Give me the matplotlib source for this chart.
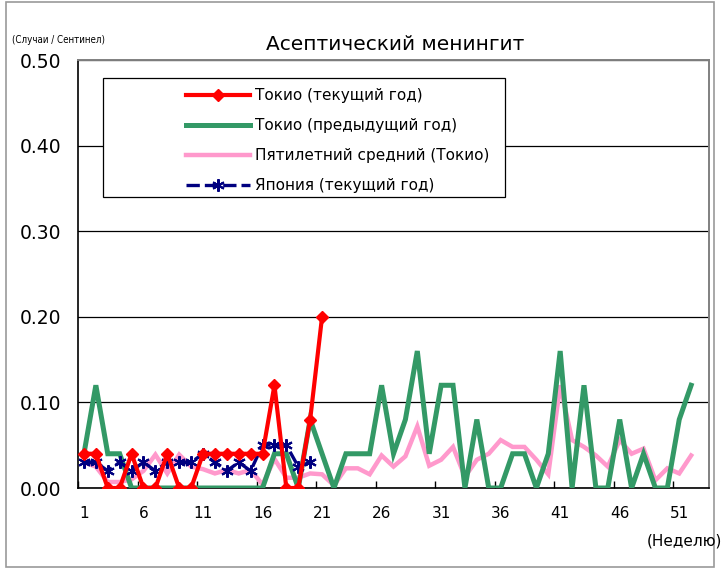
import matplotlib
matplotlib.use("Agg")
import matplotlib.pyplot as plt
from matplotlib.patches import Rectangle

weeks_label = "(Неделю)"
title = "Асептический менингит"
unit_label = "(Случаи / Сентинел)"
series_names = ["Токио (текущий год)", "Токио (предыдущий год)",
                "Пятилетний средний (Токио)", "Япония (текущий год)"]

tokyo_current = [0.04, 0.04, 0, 0, 0.04, 0, 0, 0.04, 0, 0, 0.04, 0.04, 0.04, 0.04,
                 0.04, 0.04, 0.12, 0, 0, 0.08, 0.20]
tokyo_previous = [0.04, 0.12, 0.04, 0.04, 0, 0, 0, 0, 0, 0, 0, 0, 0, 0, 0, 0,
                  0.04, 0.04, 0, 0.08, 0.04, 0, 0.04, 0.04, 0.04, 0.12, 0.04, 0.08,
                  0.16, 0.04, 0.12, 0.12, 0, 0.08, 0, 0, 0.04, 0.04, 0, 0.04, 0.16,
                  0, 0.12, 0, 0, 0.08, 0, 0.04, 0, 0, 0.08, 0.12]
five_year_avg = [0.03, 0.025, 0.007, 0.007, 0.01, 0.02, 0.039, 0.017, 0.039, 0.025,
                 0.022, 0.017, 0.021, 0.017, 0.021, 0.004, 0.034, 0.012, 0.012, 0.017,
                 0.016, 0.003, 0.023, 0.023, 0.016, 0.038, 0.025, 0.037, 0.072, 0.026,
                 0.033, 0.048, 0.013, 0.033, 0.04, 0.056, 0.048, 0.048, 0.033, 0.016,
                 0.12, 0.056, 0.048, 0.038, 0.025, 0.056, 0.04, 0.046, 0.009, 0.023,
                 0.017, 0.038]
japan_current = [0.03, 0.03, 0.02, 0.03, 0.02, 0.03, 0.02, 0.03, 0.03, 0.03, 0.04,
                 0.03, 0.02, 0.03, 0.02, 0.05, 0.05, 0.05, 0.025, 0.03]

x_tick_weeks = [1, 6, 11, 16, 21, 26, 31, 36, 41, 46, 51]
y_ticks = [0.0, 0.1, 0.2, 0.3, 0.4, 0.5]

W, H = 726, 569
fig = plt.figure(figsize=(W / 100, H / 100), dpi=100)
fig.patch.set_facecolor("white")

# chart area border
fig.patches.append(Rectangle((6 / W, 1 - 567 / H), (714 - 6) / W, (567 - 2) / H,
                             transform=fig.transFigure, fill=False,
                             edgecolor="#9a9a9a", lw=1.2))

ax = fig.add_axes([78 / W, 1 - 488 / H, (709 - 78) / W, (488 - 60) / H])

def wk(n):
    return list(range(1, n + 1))

ax.plot(wk(len(five_year_avg)), five_year_avg, color="#FF99CC", lw=3.2,
        solid_joinstyle="miter", zorder=2, label=series_names[2])
ax.plot(wk(len(tokyo_previous)), tokyo_previous, color="#339966", lw=3.6,
        solid_joinstyle="miter", zorder=3, label=series_names[1])
ax.plot(wk(len(japan_current)), japan_current, color="#000080", lw=2.4,
        linestyle=(0, (4, 1.5)), marker=(6, 2, 0), markersize=9,
        markeredgewidth=1.5, zorder=4, label=series_names[3])
ax.plot(wk(len(tokyo_current)), tokyo_current, color="#FF0000", lw=3.0,
        marker="D", markersize=6.5, zorder=5, label=series_names[0])

ax.set_xlim(0.5, 53.5)
ax.set_ylim(0, 0.5)

ax.set_xticks(x_tick_weeks)
ax.set_xticklabels([str(w) for w in x_tick_weeks], fontsize=11)
ax.set_xticks([w - 0.5 for w in x_tick_weeks], minor=True)
ax.tick_params(axis="x", which="major", length=0, pad=13)
ax.tick_params(axis="x", which="minor", direction="in", length=5, width=1,
               color="black")

ax.set_yticks(y_ticks)
ax.set_yticklabels([f"{v:.2f}" for v in y_ticks], fontsize=13.5)
ax.tick_params(axis="y", length=0, pad=12)

ax.yaxis.grid(True, color="black", lw=0.9)
ax.set_axisbelow(True)

for s in ["left", "bottom"]:
    ax.spines[s].set_color("black")
    ax.spines[s].set_linewidth(1.2)
for s in ["top", "right"]:
    ax.spines[s].set_color("#808080")
    ax.spines[s].set_linewidth(1.4)

# legend frame
ax.add_patch(Rectangle((103 / W, 1 - 197 / H), (505 - 103) / W, (197 - 78) / H,
                       transform=fig.transFigure, facecolor="white",
                       edgecolor="black", lw=0.9, zorder=6, clip_on=False))
handles, labels = ax.get_legend_handles_labels()
order = [3, 1, 0, 2]
leg = ax.legend([handles[i] for i in order], [labels[i] for i in order],
                loc="upper left", bbox_to_anchor=(186 / W, 1 - 88 / H),
                bbox_transform=fig.transFigure, frameon=False, fontsize=11,
                handlelength=4.2, handletextpad=0.3, labelspacing=0.98,
                borderpad=0, borderaxespad=0)
leg.set_zorder(7)

fig.text(395 / W, 1 - 45 / H, title, fontsize=14.5, ha="center", va="center")
fig.text(12 / W, 1 - 40 / H, unit_label, fontsize=7, fontstretch="condensed",
         ha="left", va="center")
fig.text(722 / W, 1 - 541 / H, weeks_label, fontsize=11, ha="right", va="center")

fig.savefig("out.png", dpi=100)
